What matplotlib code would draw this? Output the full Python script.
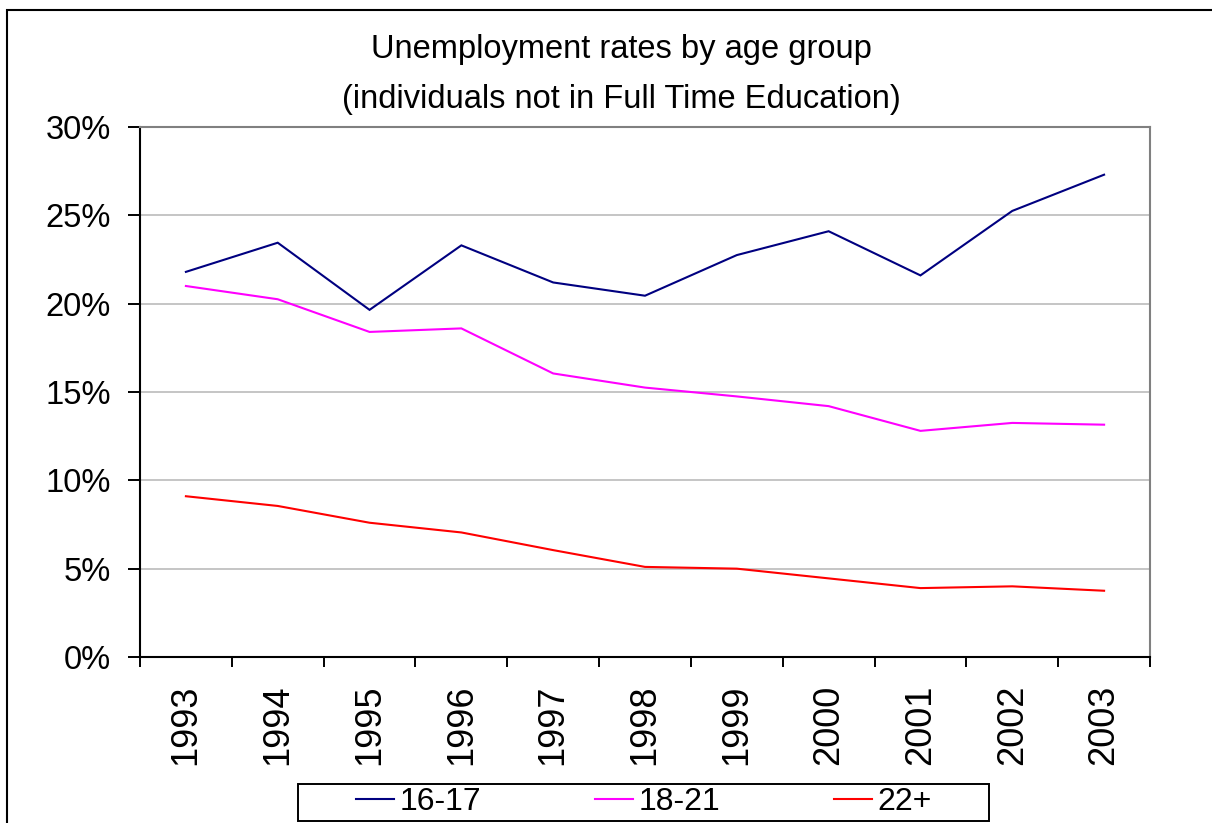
import matplotlib
matplotlib.use("Agg")
import matplotlib.pyplot as plt
from matplotlib.patches import Rectangle
from matplotlib.ticker import FixedLocator, FuncFormatter, NullFormatter

# Unemployment rate (%) by age group, individuals not in full time education
years = ["1993", "1994", "1995", "1996", "1997", "1998",
         "1999", "2000", "2001", "2002", "2003"]
age_16_17 = [21.8, 23.45, 19.65, 23.3, 21.2, 20.45, 22.75, 24.1, 21.6, 25.25, 27.3]
age_18_21 = [21.0, 20.25, 18.4, 18.6, 16.05, 15.25, 14.75, 14.2, 12.8, 13.25, 13.15]
age_22_plus = [9.1, 8.55, 7.6, 7.05, 6.05, 5.1, 5.0, 4.45, 3.9, 4.0, 3.75]

series_names = ["16-17", "18-21", "22+"]
series_values = [age_16_17, age_18_21, age_22_plus]
series_colors = ["#000080", "#FF00FF", "#FF0000"]

y_ticks = [0, 5, 10, 15, 20, 25, 30]

plt.rcParams["font.family"] = ["Liberation Sans", "DejaVu Sans"]

W, H = 1212, 823
fig = plt.figure(figsize=(W / 100, H / 100), dpi=100)
fig.patch.set_facecolor("white")


def fx(px):
    return px / W


def fy(py):
    return 1 - py / H


# plot area
ax = fig.add_axes([fx(140), fy(657), fx(1150) - fx(140), fy(127) - fy(657)])

n = len(years)
centers = [i + 0.5 for i in range(n)]
handles = []
for name, vals, col in zip(series_names, series_values, series_colors):
    (ln,) = ax.plot(centers, vals, color=col, lw=1.5, label=name,
                    solid_joinstyle="miter", zorder=3)
    handles.append(ln)

ax.set_xlim(0, n)
ax.set_ylim(0, 30)

# category boundaries carry the tick marks, centres carry the labels
ax.xaxis.set_major_locator(FixedLocator(list(range(n + 1))))
ax.xaxis.set_major_formatter(NullFormatter())
ax.xaxis.set_minor_locator(FixedLocator(centers))
ax.set_xticklabels(years, minor=True, rotation=90, fontsize=26)
ax.tick_params(axis="x", which="major", direction="out", length=7.2,
               width=1.4, color="black")
ax.tick_params(axis="x", which="minor", length=0, pad=20)

ax.yaxis.set_major_locator(FixedLocator(y_ticks))
ax.yaxis.set_major_formatter(FuncFormatter(lambda v, p: f"{v:.0f}%"))
ax.tick_params(axis="y", direction="out", length=8.6, width=1.4,
               color="black", labelsize=23.5, pad=12.5)

ax.yaxis.grid(True, color="#C0C0C0", lw=1.3)
ax.set_axisbelow(True)

for side in ("left", "bottom"):
    ax.spines[side].set_color("black")
    ax.spines[side].set_linewidth(1.5)
for side in ("top", "right"):
    ax.spines[side].set_color("#808080")
    ax.spines[side].set_linewidth(1.5)

# titles
fig.text(fx(621), fy(58), "Unemployment rates by age group",
         ha="center", va="baseline", fontsize=23.5)
fig.text(fx(621), fy(108), "(individuals not in Full Time Education)",
         ha="center", va="baseline", fontsize=23.5)

# legend box and entries
fig.patches.append(Rectangle((fx(298), fy(821)), fx(989) - fx(298),
                             fy(784) - fy(821), transform=fig.transFigure,
                             facecolor="white", edgecolor="black", lw=1.4,
                             zorder=1))
fig.legend(handles=handles, labels=series_names, loc="center left",
           bbox_to_anchor=(fx(356), fy(802.5)), ncol=3, frameon=False,
           fontsize=23, borderpad=0, handlelength=1.19, handletextpad=0.17,
           columnspacing=3.57, borderaxespad=0)

# outer chart frame
fig.patches.append(Rectangle((fx(7), -0.2), 1.5, fy(10) + 0.2,
                             transform=fig.transFigure, facecolor="none",
                             edgecolor="black", lw=1.5, zorder=0))

fig.savefig("out.png", dpi=100)
